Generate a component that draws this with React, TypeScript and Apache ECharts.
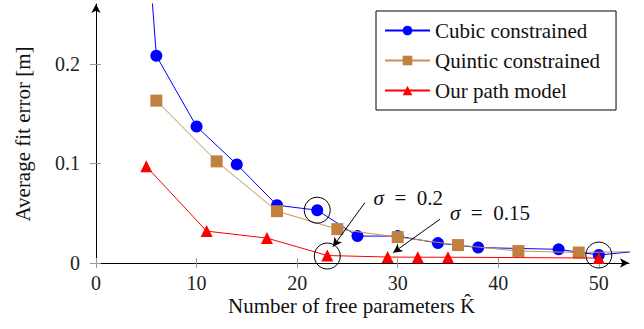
import React, { useEffect, useRef } from "react";
import * as echarts from "echarts";

const cubicX = [2, 6, 10, 14, 18, 22, 26, 30, 34, 38, 46, 50, 54];
const cubicY = [0.75, 0.208, 0.137, 0.099, 0.058, 0.053, 0.027, 0.027, 0.02, 0.0155, 0.0137, 0.008, 0.012];
const quinticX = [6, 12, 18, 24, 30, 36, 42, 48, 54];
const quinticY = [0.163, 0.102, 0.052, 0.034, 0.026, 0.018, 0.012, 0.0105, 0.0115];
const pathX = [5, 11, 17, 23, 29, 32, 35, 50];
const pathY = [0.097, 0.032, 0.025, 0.0075, 0.006, 0.0058, 0.0058, 0.005];

const xTicks = [0, 10, 20, 30, 40, 50];
const yTicks = [0, 0.1, 0.2];

const seriesNames = ["Cubic constrained", "Quintic constrained", "Our path model"];

const FONT = "Liberation Serif";

const zip = (xs: number[], ys: number[]) => xs.map((x, i) => [x, ys[i]]);

export default function App() {
  const ref = useRef<HTMLDivElement>(null);
  useEffect(() => {
    if (!ref.current) return;
    const chart = echarts.init(ref.current, undefined, { renderer: "svg" });
    const baseX = {
      type: "value",
      min: 0,
      max: 53,
      position: "bottom",
      splitLine: { show: false },
    };
    const baseY = {
      type: "value",
      min: 0,
      max: 0.26,
      position: "left",
      splitLine: { show: false },
    };
    const circleMark = (c: number[]) => ({
      coord: c,
      symbol: "circle",
      symbolSize: 26,
      itemStyle: { color: "transparent", borderColor: "#000", borderWidth: 1 },
      label: { show: false },
    });
    const textMark = (c: number[], value: string) => ({
      coord: c,
      symbol: "circle",
      symbolSize: 0,
      label: {
        show: true,
        position: "inside",
        align: "left",
        verticalAlign: "middle",
        formatter: "{i|σ}\u2002=\u2002" + value,
        fontSize: 21,
        fontFamily: FONT,
        color: "#111",
        rich: { i: { fontStyle: "italic", fontSize: 21, fontFamily: FONT, color: "#111" } },
      },
    });
    chart.setOption({
      animation: false,
      backgroundColor: "#fff",
      textStyle: { fontFamily: FONT },
      grid: { left: 96, right: 15, top: 4, bottom: 66 },
      xAxis: [
        {
          ...baseX,
          axisLine: {
            show: true,
            lineStyle: { color: "#000", width: 1 },
            symbol: ["none", "arrow"],
            symbolSize: [7, 9],
          },
          axisTick: { show: true, inside: false, length: 5, lineStyle: { color: "#999" }, customValues: xTicks },
          axisLabel: {
            show: true,
            margin: 10,
            fontSize: 20,
            fontFamily: FONT,
            color: "#222",
            customValues: xTicks,
          },
        },
        {
          ...baseX,
          axisLine: { show: false },
          axisTick: { show: true, inside: true, length: 5, lineStyle: { color: "#999" }, customValues: xTicks },
          axisLabel: { show: false },
        },
      ],
      yAxis: [
        {
          ...baseY,
          axisLine: {
            show: true,
            lineStyle: { color: "#000", width: 1 },
            symbol: ["none", "arrow"],
            symbolSize: [7, 9],
          },
          axisTick: { show: true, inside: false, length: 6, lineStyle: { color: "#999" }, customValues: yTicks },
          axisLabel: {
            show: true,
            margin: 16,
            fontSize: 20,
            fontFamily: FONT,
            color: "#222",
            customValues: yTicks,
            formatter: (v: number) => String(Math.round(v * 10) / 10),
          },
        },
        {
          ...baseY,
          axisLine: { show: false },
          axisTick: { show: true, inside: true, length: 5, lineStyle: { color: "#999" }, customValues: yTicks },
          axisLabel: { show: false },
        },
      ],
      legend: {
        data: seriesNames,
        orient: "vertical",
        left: 376,
        top: 11,
        padding: [9, 16, 9, 8],
        itemGap: 9,
        itemWidth: 45,
        itemHeight: 12,
        borderColor: "#000",
        borderWidth: 1,
        backgroundColor: "#fff",
        textStyle: { fontSize: 21, fontFamily: FONT, color: "#111", lineHeight: 20 },
      },
      series: [
        {
          name: seriesNames[0],
          type: "line",
          data: zip(cubicX, cubicY),
          symbol: "circle",
          symbolSize: 12,
          color: "#0000ff",
          lineStyle: { width: 1, color: "#0000ff" },
          itemStyle: { color: "#0000ff" },
          z: 2,
        },
        {
          name: seriesNames[1],
          type: "line",
          data: zip(quinticX, quinticY),
          symbol: "rect",
          symbolSize: 12,
          color: "#bf8040",
          lineStyle: { width: 1, color: "#c89058" },
          itemStyle: { color: "#bf8040" },
          z: 3,
        },
        {
          name: seriesNames[2],
          type: "line",
          data: zip(pathX, pathY),
          symbol: "triangle",
          symbolSize: 12,
          color: "#ff0000",
          lineStyle: { width: 1, color: "#ff0000" },
          itemStyle: { color: "#ff0000" },
          z: 4,
        },
        {
          name: "annotations",
          type: "scatter",
          data: [],
          z: 5,
          markPoint: {
            silent: true,
            data: [
              circleMark([22, 0.053]),
              circleMark([23, 0.007]),
              circleMark([50, 0.008]),
              textMark([27.6, 0.0655], "0.2"),
              textMark([35.2, 0.0505], "0.15"),
            ],
          },
          markLine: {
            silent: true,
            symbol: ["none", "arrow"],
            symbolSize: [7, 9],
            label: { show: false },
            lineStyle: { color: "#000", width: 1, type: "solid" },
            data: [
              [{ coord: [26.74, 0.0606] }, { coord: [23.56, 0.0164] }],
              [{ coord: [34.2, 0.0439] }, { coord: [29.55, 0.0104] }],
            ],
          },
        },
      ],
      graphic: [
        {
          type: "text",
          x: 228,
          y: 306,
          style: {
            text: "Number of free parameters K\u0302",
            fontSize: 21,
            fontFamily: FONT,
            fill: "#111",
            align: "left",
            verticalAlign: "middle",
          },
        },
        {
          type: "text",
          x: 23,
          y: 134,
          rotation: Math.PI / 2,
          style: {
            text: "Average fit error [m]",
            fontSize: 21,
            fontFamily: FONT,
            fill: "#111",
            align: "center",
            verticalAlign: "middle",
          },
        },
      ],
    });
    return () => chart.dispose();
  }, []);
  return <div ref={ref} style={{ width: 644, height: 329, position: "absolute", left: 0, top: 0 }} />;
}
